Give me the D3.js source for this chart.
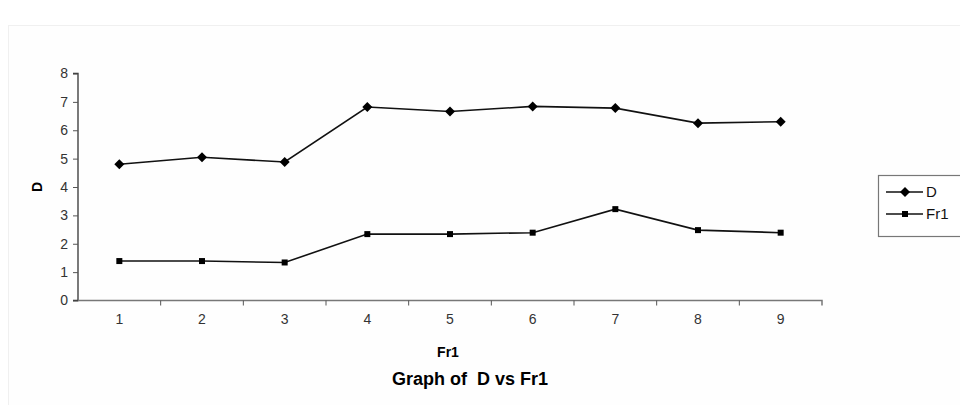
<!DOCTYPE html>
<html><head><meta charset="utf-8">
<script src="https://cdn.jsdelivr.net/npm/d3@7"></script>
<style>body{margin:0;background:#fff}svg{display:block}</style>
</head><body><svg id="c" width="960" height="405"></svg>
<script>
const categories = [1,2,3,4,5,6,7,8,9];
const seriesD   = [4.8, 5.05, 4.88, 6.82, 6.66, 6.84, 6.78, 6.25, 6.3];
const seriesFr1 = [1.39, 1.39, 1.34, 2.34, 2.34, 2.39, 3.22, 2.48, 2.39];
const yTicks = [0,1,2,3,4,5,6,7,8];
const seriesNames = ["D","Fr1"];

const svg = d3.select("#c");
const font = "'Liberation Sans', Arial, sans-serif";
// faint frame
svg.append("rect").attr("x",8.5).attr("y",25.5).attr("width",960).attr("height",400)
  .attr("fill","#fefefe").attr("stroke","#f0f0f0");

const x0 = 78, x1 = 822, yBot = 300.5, yTop = 73.5;
const xBand = d3.scaleBand().domain(categories).range([x0,x1]).padding(0);
const y = d3.scaleLinear().domain([0,8]).range([yBot,yTop]);
const xc = d => xBand(d) + xBand.bandwidth()/2;

// y axis
const yAxis = svg.append("g").attr("transform",`translate(${x0},0)`)
  .call(d3.axisLeft(y).tickValues(yTicks).tickSize(5).tickPadding(5).tickFormat(d3.format("d")));
yAxis.attr("font-size",null).attr("font-family",null);
yAxis.select(".domain").attr("stroke","#333").attr("stroke-width",1.3).attr("d",`M-5,${yTop}H0V${yBot}H-5`);
yAxis.selectAll(".tick line").attr("stroke","#555");
yAxis.selectAll("text").style("font-family",font).style("font-size","14px").attr("fill","#333");

// x axis
const xAxis = svg.append("g").attr("transform",`translate(0,${yBot})`)
  .call(d3.axisBottom(xBand).tickSize(0).tickPadding(14));
xAxis.attr("font-size",null).attr("font-family",null);
xAxis.select(".domain").attr("stroke","#777").attr("stroke-width",1.5).attr("d",`M${x0},0H${x1}V5`);
xAxis.selectAll("text").style("font-family",font).style("font-size","14px").attr("fill","#333");
xAxis.selectAll(".bnd").data(categories.slice(0,-1)).enter().append("line")
  .attr("x1",d=>xBand(d)+xBand.bandwidth()).attr("x2",d=>xBand(d)+xBand.bandwidth())
  .attr("y1",0).attr("y2",5).attr("stroke","#555");

// lines
const line = d3.line().x((d,i)=>xc(categories[i])).y(d=>y(d));
svg.append("path").datum(seriesD).attr("d",line).attr("fill","none").attr("stroke","#111").attr("stroke-width",1.6);
svg.append("path").datum(seriesFr1).attr("d",line).attr("fill","none").attr("stroke","#111").attr("stroke-width",1.6);
const diamond = "M0,-5L5,0L0,5L-5,0Z";
svg.selectAll(".md").data(seriesD).enter().append("path")
  .attr("transform",(d,i)=>`translate(${xc(categories[i])},${y(d)})`).attr("d",diamond).attr("fill","#000");
svg.selectAll(".mf").data(seriesFr1).enter().append("rect")
  .attr("x",(d,i)=>xc(categories[i])-3).attr("y",d=>y(d)-3).attr("width",6).attr("height",6).attr("fill","#000");

// axis titles
svg.append("text").attr("transform","translate(42,187) rotate(-90)").attr("text-anchor","middle")
  .style("font-family",font).attr("font-weight","bold").style("font-size","14px").text("D");
svg.append("text").attr("x",448).attr("y",357).attr("text-anchor","middle")
  .style("font-family",font).attr("font-weight","bold").style("font-size","14px").text("Fr1");
svg.append("text").attr("x",470).attr("y",385).attr("text-anchor","middle")
  .style("font-family",font).attr("font-weight","bold").style("font-size","18px").style("white-space","pre").text("Graph of  D vs Fr1");

// legend
const lg = svg.append("g");
lg.append("rect").attr("x",878.5).attr("y",175.5).attr("width",100).attr("height",61)
  .attr("fill","#fff").attr("stroke","#777").attr("stroke-width",1.2);
seriesNames.forEach((n,i)=>{
  const yy = 192 + i*22;
  lg.append("line").attr("x1",886).attr("x2",923).attr("y1",yy).attr("y2",yy).attr("stroke","#111").attr("stroke-width",1.6);
  if(i===0) lg.append("path").attr("transform",`translate(905,${yy})`).attr("d",diamond).attr("fill","#000");
  else lg.append("rect").attr("x",902).attr("y",yy-3).attr("width",6).attr("height",6).attr("fill","#000");
  lg.append("text").attr("x",926).attr("y",yy+5).style("font-family",font).style("font-size","15px").attr("fill","#111").text(n);
});
</script></body></html>
